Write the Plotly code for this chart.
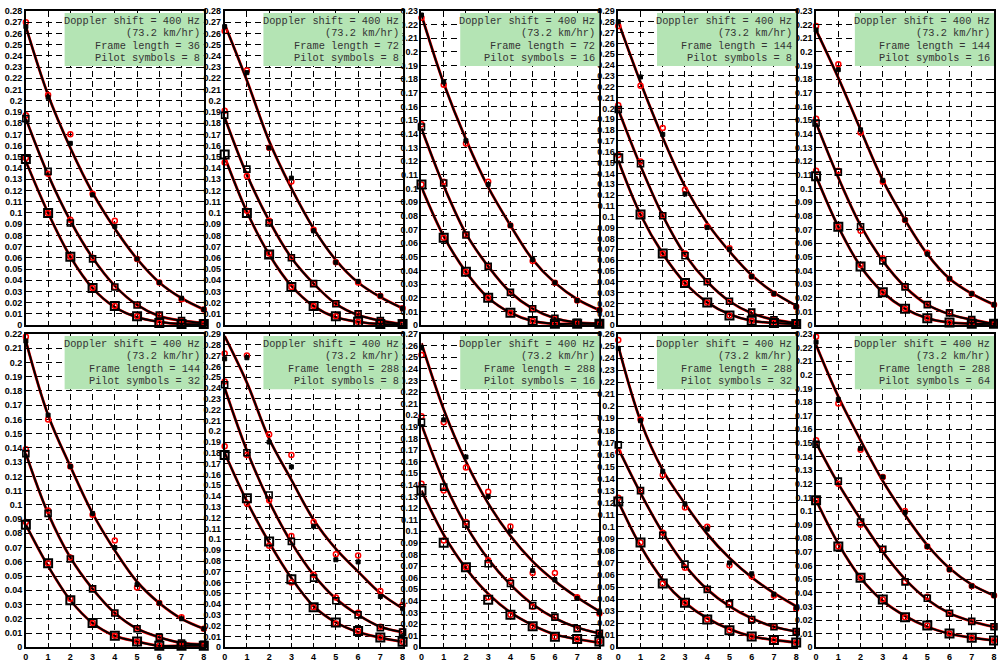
import plotly.graph_objects as go

# ---------------- data ----------------
X = [0, 1, 2, 3, 4, 5, 6, 7, 8]
X_TICK_LABELS = ["0", "1", "2", "3", "4", "5", "6", "7", "8"]

Y_MAX = [0.28, 0.28, 0.23, 0.29, 0.23, 0.22, 0.29, 0.27, 0.26, 0.23]
FRAME_LEN = [36, 72, 72, 144, 144, 144, 288, 288, 288, 288]
PILOTS = [8, 8, 16, 8, 16, 32, 8, 16, 32, 64]
DOPPLER = "Doppler shift = 400 Hz"
SPEED = "(73.2 km/hr)"

# each panel: [top, middle, bottom] series
MARK_P1 = [[0.266, 0.203, 0.162, 0.116, 0.088, 0.059, 0.038, 0.024, 0.014],
           [0.184, 0.137, 0.091, 0.059, 0.034, 0.018, 0.009, 0.004, 0.002],
           [0.148, 0.100, 0.061, 0.033, 0.017, 0.008, 0.002, 0.001, 0.001]]
FIT_P1 = [[0.266, 0.205, 0.158, 0.118, 0.086, 0.059, 0.038, 0.024, 0.014],
          [0.184, 0.134, 0.093, 0.060, 0.035, 0.018, 0.008, 0.004, 0.002],
          [0.146, 0.100, 0.061, 0.033, 0.016, 0.007, 0.003, 0.001, 0.001]]
RED_P1 = [[0.270, 0.205, 0.170, 0.117, 0.093, 0.059, 0.038, 0.023, 0.014],
          [0.187, 0.135, 0.094, 0.060, 0.034, 0.018, 0.009, 0.004, 0.002],
          [0.149, 0.100, 0.061, 0.033, 0.017, 0.008, 0.002, 0.001, 0.001]]

MARK_P2 = [[0.266, 0.225, 0.158, 0.131, 0.084, 0.056, 0.039, 0.026, 0.015],
           [0.187, 0.139, 0.091, 0.060, 0.037, 0.019, 0.010, 0.004, 0.001],
           [0.152, 0.100, 0.063, 0.034, 0.017, 0.008, 0.003, 0.001, 0.001]]
FIT_P2 = [[0.268, 0.218, 0.164, 0.122, 0.086, 0.058, 0.038, 0.025, 0.015],
          [0.185, 0.134, 0.093, 0.060, 0.037, 0.019, 0.009, 0.004, 0.001],
          [0.150, 0.101, 0.063, 0.035, 0.017, 0.007, 0.003, 0.001, 0.001]]
RED_P2 = [[0.262, 0.227, 0.158, 0.128, 0.085, 0.056, 0.038, 0.026, 0.015],
          [0.191, 0.133, 0.093, 0.060, 0.037, 0.019, 0.010, 0.004, 0.001],
          [0.145, 0.102, 0.064, 0.034, 0.017, 0.008, 0.003, 0.001, 0.001]]

MARK_P3 = [[0.227, 0.178, 0.135, 0.103, 0.073, 0.048, 0.031, 0.018, 0.011],
           [0.145, 0.104, 0.066, 0.043, 0.024, 0.012, 0.005, 0.002, 0.001],
           [0.103, 0.064, 0.039, 0.020, 0.009, 0.003, 0.001, 0.001, 0.001]]
FIT_P3 = [[0.227, 0.177, 0.136, 0.101, 0.073, 0.048, 0.031, 0.019, 0.011],
          [0.144, 0.102, 0.067, 0.043, 0.024, 0.012, 0.005, 0.002, 0.001],
          [0.101, 0.065, 0.039, 0.020, 0.009, 0.003, 0.001, 0.001, 0.001]]
RED_P3 = [[0.225, 0.176, 0.133, 0.105, 0.073, 0.047, 0.031, 0.018, 0.011],
          [0.147, 0.105, 0.066, 0.043, 0.024, 0.012, 0.005, 0.002, 0.001],
          [0.103, 0.064, 0.039, 0.020, 0.009, 0.003, 0.001, 0.001, 0.001]]

MARK_P4 = [[0.280, 0.229, 0.176, 0.121, 0.090, 0.070, 0.045, 0.029, 0.017],
           [0.199, 0.149, 0.101, 0.064, 0.040, 0.022, 0.012, 0.005, 0.002],
           [0.154, 0.102, 0.066, 0.039, 0.021, 0.009, 0.004, 0.002, 0.001]]
FIT_P4 = [[0.280, 0.224, 0.173, 0.128, 0.094, 0.068, 0.046, 0.030, 0.018],
          [0.199, 0.147, 0.101, 0.065, 0.040, 0.022, 0.011, 0.005, 0.002],
          [0.152, 0.102, 0.066, 0.039, 0.021, 0.010, 0.004, 0.002, 0.001]]
RED_P4 = [[0.276, 0.221, 0.182, 0.125, 0.091, 0.071, 0.045, 0.029, 0.017],
          [0.203, 0.151, 0.101, 0.066, 0.040, 0.022, 0.012, 0.005, 0.002],
          [0.157, 0.102, 0.066, 0.039, 0.021, 0.009, 0.004, 0.002, 0.001]]

MARK_P5 = [[0.216, 0.187, 0.143, 0.106, 0.077, 0.052, 0.034, 0.023, 0.015],
           [0.148, 0.112, 0.072, 0.047, 0.028, 0.015, 0.009, 0.004, 0.001],
           [0.109, 0.072, 0.043, 0.024, 0.012, 0.005, 0.002, 0.001, 0.001]]
FIT_P5 = [[0.216, 0.181, 0.143, 0.106, 0.077, 0.052, 0.034, 0.023, 0.015],
          [0.148, 0.108, 0.073, 0.047, 0.028, 0.015, 0.008, 0.004, 0.001],
          [0.109, 0.072, 0.043, 0.024, 0.012, 0.005, 0.002, 0.001, 0.001]]
RED_P5 = [[0.219, 0.191, 0.141, 0.105, 0.077, 0.053, 0.034, 0.023, 0.015],
          [0.151, 0.113, 0.069, 0.049, 0.028, 0.015, 0.009, 0.004, 0.001],
          [0.113, 0.072, 0.044, 0.024, 0.012, 0.005, 0.002, 0.001, 0.001]]

MARK_P6 = [[0.215, 0.163, 0.127, 0.094, 0.070, 0.044, 0.031, 0.020, 0.013],
           [0.136, 0.094, 0.062, 0.041, 0.024, 0.013, 0.007, 0.003, 0.002],
           [0.086, 0.059, 0.033, 0.017, 0.008, 0.004, 0.001, 0.001, 0.001]]
FIT_P6 = [[0.215, 0.163, 0.127, 0.094, 0.068, 0.046, 0.031, 0.020, 0.013],
          [0.136, 0.094, 0.063, 0.041, 0.024, 0.013, 0.007, 0.003, 0.002],
          [0.086, 0.057, 0.033, 0.017, 0.008, 0.004, 0.001, 0.001, 0.001]]
RED_P6 = [[0.218, 0.160, 0.127, 0.093, 0.075, 0.042, 0.031, 0.021, 0.013],
          [0.139, 0.096, 0.063, 0.041, 0.024, 0.013, 0.007, 0.003, 0.002],
          [0.088, 0.059, 0.034, 0.017, 0.008, 0.004, 0.001, 0.001, 0.001]]

MARK_P7 = [[0.267, 0.268, 0.190, 0.167, 0.112, 0.081, 0.079, 0.047, 0.036],
           [0.243, 0.180, 0.141, 0.098, 0.064, 0.043, 0.030, 0.018, 0.014],
           [0.178, 0.138, 0.098, 0.063, 0.037, 0.023, 0.015, 0.009, 0.005]]
FIT_P7 = [[0.288, 0.245, 0.193, 0.155, 0.118, 0.091, 0.070, 0.050, 0.036],
          [0.240, 0.182, 0.135, 0.097, 0.067, 0.045, 0.030, 0.019, 0.014],
          [0.180, 0.135, 0.097, 0.064, 0.038, 0.023, 0.014, 0.009, 0.005]]
RED_P7 = [[0.272, 0.270, 0.197, 0.178, 0.116, 0.086, 0.085, 0.052, 0.039],
          [0.246, 0.178, 0.136, 0.103, 0.067, 0.046, 0.032, 0.019, 0.015],
          [0.186, 0.133, 0.094, 0.060, 0.037, 0.022, 0.015, 0.009, 0.005]]

MARK_P8 = [[0.258, 0.196, 0.164, 0.130, 0.100, 0.066, 0.058, 0.042, 0.030],
           [0.194, 0.138, 0.106, 0.072, 0.055, 0.036, 0.026, 0.016, 0.012],
           [0.135, 0.090, 0.069, 0.041, 0.028, 0.018, 0.009, 0.007, 0.005]]
FIT_P8 = [[0.262, 0.205, 0.160, 0.124, 0.096, 0.074, 0.057, 0.043, 0.031],
          [0.192, 0.143, 0.105, 0.076, 0.054, 0.037, 0.025, 0.017, 0.012],
          [0.135, 0.097, 0.068, 0.046, 0.030, 0.019, 0.011, 0.007, 0.004]]
RED_P8 = [[0.252, 0.194, 0.155, 0.134, 0.104, 0.064, 0.064, 0.043, 0.029],
          [0.199, 0.135, 0.108, 0.075, 0.057, 0.035, 0.026, 0.016, 0.012],
          [0.141, 0.092, 0.069, 0.043, 0.028, 0.018, 0.009, 0.007, 0.005]]

MARK_P9 = [[0.248, 0.188, 0.146, 0.119, 0.098, 0.070, 0.061, 0.044, 0.033],
           [0.168, 0.130, 0.093, 0.069, 0.048, 0.036, 0.023, 0.017, 0.013],
           [0.121, 0.087, 0.053, 0.037, 0.023, 0.014, 0.009, 0.006, 0.004]]
FIT_P9 = [[0.250, 0.188, 0.147, 0.119, 0.094, 0.074, 0.058, 0.045, 0.034],
          [0.165, 0.128, 0.095, 0.068, 0.048, 0.034, 0.024, 0.017, 0.013],
          [0.121, 0.084, 0.056, 0.037, 0.024, 0.015, 0.009, 0.006, 0.004]]
RED_P9 = [[0.255, 0.189, 0.143, 0.116, 0.100, 0.068, 0.059, 0.043, 0.032],
          [0.162, 0.130, 0.095, 0.066, 0.048, 0.036, 0.023, 0.017, 0.013],
          [0.124, 0.087, 0.053, 0.037, 0.023, 0.014, 0.009, 0.006, 0.004]]

MARK_P10 = [[0.224, 0.182, 0.146, 0.125, 0.099, 0.074, 0.057, 0.045, 0.038],
            [0.149, 0.122, 0.092, 0.072, 0.048, 0.036, 0.025, 0.019, 0.015],
            [0.108, 0.074, 0.051, 0.035, 0.022, 0.016, 0.010, 0.007, 0.005]]
FIT_P10 = [[0.222, 0.184, 0.152, 0.122, 0.097, 0.075, 0.058, 0.046, 0.038],
           [0.150, 0.120, 0.094, 0.070, 0.050, 0.035, 0.025, 0.019, 0.015],
           [0.108, 0.076, 0.051, 0.034, 0.023, 0.015, 0.010, 0.007, 0.005]]
RED_P10 = [[0.228, 0.179, 0.145, 0.125, 0.100, 0.074, 0.057, 0.045, 0.038],
           [0.152, 0.120, 0.090, 0.072, 0.048, 0.037, 0.025, 0.019, 0.015],
           [0.108, 0.074, 0.051, 0.035, 0.022, 0.016, 0.010, 0.007, 0.005]]

MARKS = [MARK_P1, MARK_P2, MARK_P3, MARK_P4, MARK_P5, MARK_P6, MARK_P7, MARK_P8, MARK_P9, MARK_P10]
FITS = [FIT_P1, FIT_P2, FIT_P3, FIT_P4, FIT_P5, FIT_P6, FIT_P7, FIT_P8, FIT_P9, FIT_P10]
REDS = [RED_P1, RED_P2, RED_P3, RED_P4, RED_P5, RED_P6, RED_P7, RED_P8, RED_P9, RED_P10]

# ---------------- layout geometry (pixels) ----------------
W, H = 998, 668
PANEL_LEFT = [23, 223, 421, 619, 818]
PANEL_W = 179
ROW_TOP = [6, 334]
ROW_BOT = [325, 652]

TICK_FONT = dict(family="Liberation Sans Narrow, Liberation Sans, Arial", size=9,
                 color="black", weight="bold")
BOX_FONT = dict(family="Liberation Mono, Courier New, monospace", size=10.3, color="#333333")
BOX_COLOR = "rgb(180,228,180)"

MARKER_STYLES = [
    dict(symbol="square", size=4, color="black", line=dict(color="black", width=1)),
    dict(symbol="square-open", size=6, color="black", line=dict(color="black", width=1.6)),
    dict(symbol="square-open", size=8, color="black", line=dict(color="black", width=2)),
]

fig = go.Figure()
shapes = []
annotations = []

for i in range(10):
    row, col = divmod(i, 5)
    n = i + 1
    sfx = "" if n == 1 else str(n)
    xref, yref = "x" + sfx, "y" + sfx
    ymax = Y_MAX[i]

    x0 = PANEL_LEFT[col] / W
    x1 = (PANEL_LEFT[col] + PANEL_W) / W
    y0 = 1 - ROW_BOT[row] / H
    y1 = 1 - ROW_TOP[row] / H

    nt = int(round(ymax * 100))
    yvals = [round(k * 0.01, 2) for k in range(nt + 1)]
    ytext = [f"{v:g}" for v in yvals]

    fig.layout["xaxis" + sfx] = dict(
        domain=[x0, x1], anchor=yref, range=[0, 8],
        tickvals=X, ticktext=X_TICK_LABELS, showticklabels=(row == 1),
        ticks="inside", ticklen=4, tickcolor="black", tickwidth=1,
        showline=True, linecolor="black", linewidth=1.5, mirror="ticks",
        showgrid=True, gridcolor="black", gridwidth=1, griddash="6px,4px",
        zeroline=False, tickfont=TICK_FONT, fixedrange=True)
    fig.layout["yaxis" + sfx] = dict(
        domain=[y0, y1], anchor=xref, range=[0, ymax],
        tickvals=yvals, ticktext=ytext,
        ticks="inside", ticklen=4, tickcolor="black", tickwidth=1,
        showline=True, linecolor="black", linewidth=1.5, mirror="ticks",
        showgrid=True, gridcolor="black", gridwidth=1, griddash="6px,4px",
        zeroline=False, tickfont=TICK_FONT, fixedrange=True)

    # red estimation lines (underneath)
    for s in range(3):
        fig.add_trace(go.Scatter(x=X, y=FITS[i][s], mode="lines", xaxis=xref, yaxis=yref,
                                 line=dict(color="red", width=2.8, shape="spline", smoothing=1.0),
                                 showlegend=False, hoverinfo="skip"))
    # black fitted curves
    for s in range(3):
        fig.add_trace(go.Scatter(x=X, y=FITS[i][s], mode="lines", xaxis=xref, yaxis=yref,
                                 line=dict(color="black", width=2, shape="spline", smoothing=1.0),
                                 showlegend=False, hoverinfo="skip"))
    # red trial markers
    for s in range(3):
        fig.add_trace(go.Scatter(x=X, y=REDS[i][s], mode="markers", xaxis=xref, yaxis=yref,
                                 marker=dict(symbol="circle-open", size=5, color="red",
                                             line=dict(color="red", width=1.5)),
                                 cliponaxis=False, showlegend=False))
    # black measured markers
    for s in range(3):
        fig.add_trace(go.Scatter(x=X, y=MARKS[i][s], mode="markers", xaxis=xref, yaxis=yref,
                                 marker=MARKER_STYLES[s], cliponaxis=False, showlegend=False))

    # green info box
    ph = ROW_BOT[row] - ROW_TOP[row]
    shapes.append(dict(type="rect", xref=xref + " domain", yref=yref + " domain",
                       x0=1 - 140 / PANEL_W, x1=1, y0=1 - 56 / ph, y1=1 - 2 / ph,
                       fillcolor=BOX_COLOR, line=dict(width=0), layer="above"))
    lines = [DOPPLER, SPEED, f"Frame length = {FRAME_LEN[i]}", f"Pilot symbols = {PILOTS[i]}"]
    offs = [10, 22.3, 34.6, 47]
    for txt, off in zip(lines, offs):
        annotations.append(dict(xref=xref + " domain", yref=yref + " domain", x=1, y=1,
                                xanchor="right", yanchor="middle", xshift=-2, yshift=-off,
                                text=txt.replace(" ", "&nbsp;"), showarrow=False, font=BOX_FONT))

fig.update_layout(
    width=W, height=H, autosize=False,
    margin=dict(l=0, r=0, t=0, b=0),
    paper_bgcolor="white", plot_bgcolor="white",
    shapes=shapes, annotations=annotations, showlegend=False,
)

fig.write_html("out.html", config={"displayModeBar": False},
               post_script="document.body.style.margin='0';")
